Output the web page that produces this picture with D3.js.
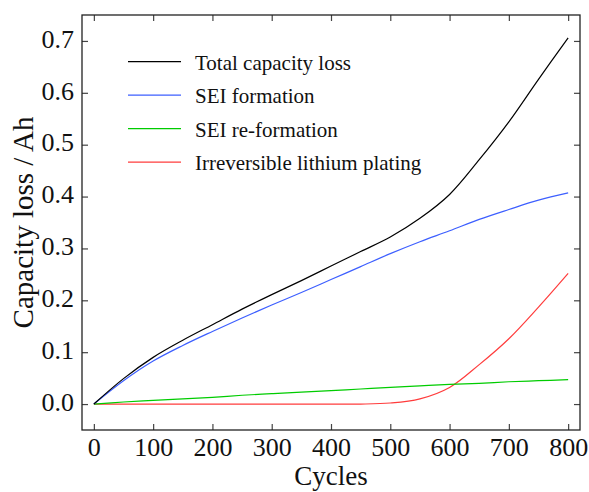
<!DOCTYPE html>
<html>
<head>
<meta charset="utf-8">
<script src="https://cdn.jsdelivr.net/npm/d3@7/dist/d3.min.js"></script>
<style>
  html, body { margin: 0; padding: 0; background: #fff; }
  svg { display: block; }
  text { font-family: "Liberation Serif", "Times New Roman", serif; fill: #111; }
</style>
</head>
<body>
<svg id="chart" width="589" height="492"></svg>
<script>
// ---- data ----
const cycles = [0, 50, 100, 150, 200, 250, 300, 350, 400, 450, 500, 550, 600, 650, 700, 750, 800];
const totalLoss      = [0, 0.049, 0.090, 0.123, 0.153, 0.183, 0.211, 0.238, 0.266, 0.294, 0.322, 0.358, 0.404, 0.471, 0.544, 0.626, 0.706];
const seiFormation   = [0, 0.045, 0.083, 0.113, 0.140, 0.166, 0.191, 0.215, 0.240, 0.265, 0.290, 0.313, 0.334, 0.356, 0.375, 0.393, 0.407];
const seiReformation = [0, 0.004, 0.007, 0.010, 0.013, 0.017, 0.020, 0.023, 0.026, 0.029, 0.032, 0.035, 0.038, 0.040, 0.043, 0.045, 0.047];
const lithiumPlating = [0, 0, 0, 0, 0, 0, 0, 0, 0, 0, 0.002, 0.010, 0.032, 0.076, 0.126, 0.187, 0.252];

const seriesNames  = ["Total capacity loss", "SEI formation", "SEI re-formation", "Irreversible lithium plating"];
const seriesValues = [totalLoss, seiFormation, seiReformation, lithiumPlating];
const seriesColors = ["#000000", "#3d5fff", "#00cc00", "#ff3c3c"];

const xTicks = [0, 100, 200, 300, 400, 500, 600, 700, 800];
const yTicks = [0.0, 0.1, 0.2, 0.3, 0.4, 0.5, 0.6, 0.7];

const xLabel = "Cycles";
const yLabel = "Capacity loss / Ah";

// ---- layout ----
const svg = d3.select("#chart");
const pLeft = 82, pRight = 580, pTop = 15, pBottom = 430;

const x = d3.scaleLinear().domain([-20, 820]).range([pLeft, pRight]);
const y = d3.scaleLinear().domain([-0.05, 0.75]).range([pBottom, pTop]);

const tickLen = 6;
const axisColor = "#222";

// axes
const gx = svg.append("g").attr("transform", `translate(0,${pBottom})`)
  .call(d3.axisBottom(x).tickValues(xTicks).tickFormat(d3.format("d")).tickSize(-tickLen).tickSizeOuter(0).tickPadding(0));
gx.selectAll("text").attr("y", 25.5).attr("dy", null)
  .style("font-size", "26px")
  .style("font-family", '"Liberation Serif", serif').attr("fill", "#111");

const gxTop = svg.append("g").attr("transform", `translate(0,${pTop})`)
  .call(d3.axisTop(x).tickValues(xTicks).tickFormat("").tickSize(-tickLen).tickSizeOuter(0));

const gy = svg.append("g").attr("transform", `translate(${pLeft},0)`)
  .call(d3.axisLeft(y).tickValues(yTicks).tickFormat(d3.format(".1f")).tickSize(-tickLen).tickSizeOuter(0).tickPadding(8));
gy.selectAll("text").attr("dy", "0.24em").style("font-size", "26px")
  .style("font-family", '"Liberation Serif", serif').attr("fill", "#111");

const gyRight = svg.append("g").attr("transform", `translate(${pRight},0)`)
  .call(d3.axisRight(y).tickValues(yTicks).tickFormat("").tickSize(-tickLen).tickSizeOuter(0));

[gx, gxTop, gy, gyRight].forEach(g => {
  g.select(".domain").remove();
  g.selectAll(".tick line").attr("stroke", "#444").attr("stroke-width", 1.2);
});

// frame
svg.append("rect")
  .attr("x", pLeft).attr("y", pTop)
  .attr("width", pRight - pLeft).attr("height", pBottom - pTop)
  .attr("fill", "none").attr("stroke", axisColor).attr("stroke-width", 1.3);

// lines
const line = d3.line()
  .x((d, i) => x(cycles[i]))
  .y(d => y(d))
  .curve(d3.curveCatmullRom.alpha(0.5));

[3, 2, 1, 0].forEach(k => {
  svg.append("path")
    .datum(seriesValues[k])
    .attr("d", line)
    .attr("fill", "none")
    .attr("stroke", seriesColors[k])
    .attr("stroke-width", 1.2);
});

// legend
const legend = svg.append("g");
const legY0 = 61.7, legDy = 33.5;
seriesNames.forEach((name, i) => {
  const yy = legY0 + i * legDy;
  legend.append("line")
    .attr("x1", 128).attr("x2", 181).attr("y1", yy).attr("y2", yy)
    .attr("stroke", seriesColors[i]).attr("stroke-width", 1.2);
  legend.append("text")
    .attr("x", 195).attr("y", yy + 8)
    .style("font-size", "21px")
    .text(name);
});

// axis titles
svg.append("text")
  .attr("x", (pLeft + pRight) / 2).attr("y", 485)
  .attr("text-anchor", "middle")
  .style("font-size", "27px")
  .text(xLabel);

svg.append("text")
  .attr("transform", `translate(33,${(pTop + pBottom) / 2}) rotate(-90)`)
  .attr("text-anchor", "middle")
  .style("font-size", "29px")
  .text(yLabel);
</script>
</body>
</html>
